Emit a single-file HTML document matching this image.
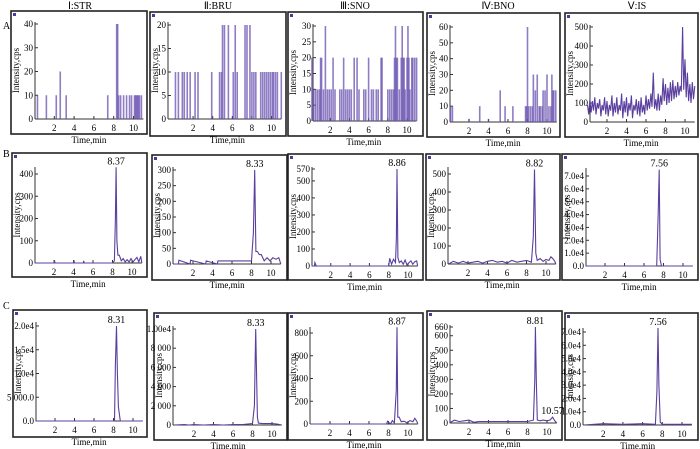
<!DOCTYPE html>
<html><head><meta charset="utf-8">
<style>
html,body{margin:0;padding:0;background:#fff;}
svg{display:block;font-family:"Liberation Serif",serif;}
</style></head>
<body>
<svg id="fig" width="700" height="449" viewBox="0 0 700 449" xmlns="http://www.w3.org/2000/svg">
<text x="3" y="29" font-size="10">A</text>
<text x="3" y="157" font-size="10">B</text>
<text x="3" y="309" font-size="10">C</text>
<text x="80" y="9" font-size="10" text-anchor="middle">Ⅰ:STR</text>
<text x="218" y="9" font-size="10" text-anchor="middle">Ⅱ:BRU</text>
<text x="355" y="9" font-size="10" text-anchor="middle">Ⅲ:SNO</text>
<text x="498" y="9" font-size="10" text-anchor="middle">Ⅳ:BNO</text>
<text x="637" y="9" font-size="10" text-anchor="middle">Ⅴ:IS</text>
</svg>
<script>
// ---- data arrays ----
const xTickVals = [2,4,6,8,10];
const a1Times = [0.3,1.2,2.2,2.6,3.2,7.4,8.3,8.4,8.5,8.7,9.0,9.3,9.6,9.8,10.1,10.2,10.3,10.4,10.5,10.6,10.8];
const a1Vals  = [10,10,10,20,10,10,40,40,10,10,10,10,10,10,10,10,10,10,10,10,10];
const a2Times = [0.2,0.5,0.9,1.1,1.4,1.7,2.2,2.5,3.9,4.7,4.9,5.0,5.2,5.6,6.1,6.3,6.5,7.3,7.5,7.8,8.0,8.2,8.4,8.9,9.1,9.3,9.5,9.7,9.9,10.1,10.2,10.4,10.6,11.0];
const a2Vals  = [10,10,10,10,10,10,10,10,10,10,10,20,20,20,10,20,10,20,20,20,10,10,10,10,10,10,10,10,10,10,10,10,10,10];
const a3Times = [0.1,0.3,0.5,0.7,0.9,1.0,1.1,1.3,1.5,1.7,1.9,2.1,2.3,2.5,3.0,3.2,3.4,3.6,3.8,4.0,4.2,4.5,4.8,5.0,5.5,5.7,6.0,6.3,6.5,6.8,7.0,7.3,7.4,8.0,8.2,8.4,8.6,8.7,8.8,8.9,9.0,9.2,9.4,9.5,9.6,9.7,9.8,10.0,10.1,10.2,10.3,10.5,10.6,10.8,11.0];
const a3Vals  = [20,10,10,10,10,20,20,10,30,10,10,10,20,10,10,10,20,10,10,10,10,20,20,10,10,10,20,10,10,10,10,20,20,10,10,10,10,20,30,20,20,10,20,30,20,20,10,20,30,20,10,20,20,20,20];
const a4Times = [0.1,0.3,2.0,3.1,4.0,5.2,5.7,6.5,7.8,7.9,8.0,8.1,8.3,8.5,8.6,8.8,9.0,9.2,9.3,9.5,9.6,9.8,10.0,10.2,10.4,10.5,10.6,10.7,10.9];
const a4Vals  = [10,10,2,10,2,20,10,10,10,10,60,10,10,10,30,20,30,10,10,10,20,20,30,10,10,30,20,20,20];
const a5Times = [0.0,0.12,0.25,0.37,0.5,0.62,0.75,0.87,1.0,1.12,1.25,1.37,1.5,1.62,1.75,1.87,2.0,2.12,2.25,2.37,2.5,2.62,2.75,2.87,3.0,3.12,3.25,3.37,3.5,3.62,3.75,3.87,4.0,4.12,4.25,4.37,4.5,4.62,4.75,4.87,5.0,5.12,5.25,5.37,5.5,5.62,5.75,5.87,6.0,6.12,6.25,6.37,6.5,6.62,6.75,6.87,7.0,7.12,7.25,7.37,7.5,7.62,7.75,7.87,8.0,8.12,8.25,8.37,8.5,8.62,8.75,8.87,9.0,9.12,9.25,9.37,9.5,9.62,9.75,9.87,10.0,10.12,10.25,10.37,10.5,10.62,10.75,10.87,11.0];
const a5Vals  = [90,40,120,50,110,60,130,40,100,70,120,30,90,60,130,40,110,30,90,60,140,30,100,50,130,40,90,60,150,20,110,50,130,30,100,60,140,20,90,60,120,40,110,30,130,50,90,40,140,60,120,70,150,80,260,70,120,60,150,60,140,90,230,110,200,90,180,100,210,110,220,120,190,130,210,140,190,160,500,170,330,130,260,110,200,100,210,120,190];
const b1Times = [0,2,2.05,2.1,4,4.05,4.1,5,5.05,5.1,6,8,8.2,8.3,8.37,8.45,8.55,8.7,8.9,9.1,9.3,9.5,9.7,9.9,10.1,10.3,10.5,10.7,10.9,11];
const b1Vals  = [0,0,12,0,0,12,0,0,10,0,0,0,10,200,430,100,35,35,10,20,5,15,5,20,5,15,25,5,30,0];
const b2Times = [0,0.5,0.55,1.7,1.75,2.0,3.3,3.35,4.5,4.55,5.0,5.7,6.8,7.0,7.5,8.0,8.2,8.33,8.45,8.6,8.8,9.0,9.3,9.6,9.9,10.2,10.5,10.8,11];
const b2Vals  = [0,0,12,0,12,10,0,10,0,10,10,10,10,10,10,10,100,300,40,40,30,30,10,20,10,20,15,20,0];
const b3Times = [0,0.3,0.35,0.5,8,8.1,8.3,8.5,8.7,8.8,8.86,8.95,9.1,9.3,9.5,9.7,9.9,10.1,10.3,10.5,10.7,10.9,11];
const b3Vals  = [0,0,20,0,0,45,10,40,20,170,570,50,20,30,10,35,5,20,30,10,25,30,0];
const b4Times = [0,0.5,1,1.5,2,2.5,3,3.5,4,4.5,5,5.5,6,6.5,7,7.5,8,8.5,8.7,8.82,8.95,9.1,9.4,9.7,10,10.3,10.5,10.7,10.9,11];
const b4Vals  = [0,15,5,15,5,10,15,5,15,20,10,15,5,20,10,15,20,10,150,525,60,20,30,15,25,20,40,30,15,0];
const b5Times = [0,7.3,7.45,7.56,7.65,7.8,11];
const b5Vals  = [0,0,38000,75000,5000,0,0];
const c1Times = [0,8.1,8.2,8.31,8.4,8.5,8.7,11];
const c1Vals  = [0,0,12000,20000,10000,3000,0,0];
const c2Times = [0,1,1.5,2,3,4,5,6,7,7.5,8,8.2,8.33,8.5,8.6,9,10,10.5,11];
const c2Vals  = [0,50,0,50,0,50,0,50,50,100,150,2000,10000,800,200,150,150,100,0];
const c3Times = [0,7.8,7.9,8.2,8.4,8.6,8.8,8.87,8.95,9.1,9.3,9.6,9.9,10.2,10.5,10.7,10.9,11];
const c3Vals  = [0,0,25,0,30,10,300,850,60,60,20,25,10,30,20,50,25,0];
const c4Times = [0,0.5,1,1.5,2,2.5,3,4,5,6,7,8,8.6,8.75,8.81,8.9,9.0,9.3,9.6,10,10.3,10.57,10.8,11];
const c4Vals  = [0,20,10,15,20,5,10,10,10,10,10,10,20,300,660,300,20,15,20,15,20,40,15,0];
const c5Times = [0,2,4,6,7.3,7.45,7.56,7.65,7.8,8,11];
const c5Vals  = [0,1000,500,1000,500,25000,73000,30000,2000,500,500];
const a1YTicks=[0,10,20,30,40], a2YTicks=[0,5,10,15,20], a3YTicks=[0,5,10,15,20,25,30], a4YTicks=[0,10,20,30,40,50,60], a5YTicks=[0,100,200,300,400,500];
const b1YTicks=[0,100,200,300,400], b2YTicks=[0,50,100,150,200,250,300], b3YTicks=[0,100,200,300,400,500,570], b4YTicks=[0,100,200,300,400,500], b5YTicks=[0,10000,20000,30000,40000,50000,60000,70000];
const b5YLabels=["0.0","1.0e4","2.0e4","3.0e4","4.0e4","5.0e4","6.0e4","7.0e4"];
const c1YTicks=[0,5000,10000,15000,20000], c1YLabels=["0.0","5 000.0","1.0e4","1.5e4","2.0e4"];
const c2YTicks=[0,2000,4000,6000,8000,10000], c2YLabels=["0","2 000","4 000","6 000","8 000","1.00e4"];
const c3YTicks=[0,200,400,600,800], c4YTicks=[0,100,200,300,400,500,600,660];
const c5YTicks=b5YTicks, c5YLabels=b5YLabels;

const panels = [
 {id:'a1',box:[11,11,147,134],ax:35,x0:34.5,ppm:9.9,base:119,topY:24,topVal:40,axTop:22,yt:a1YTicks,type:'spike',t:a1Times,v:a1Vals},
 {id:'a2',box:[150,12,286,136],ax:168,x0:173.5,ppm:9.8,base:119,topY:25,topVal:20,axTop:22,yt:a2YTicks,type:'spike',t:a2Times,v:a2Vals},
 {id:'a3',box:[288,12,423,136],ax:313,x0:311,ppm:9.6,base:121,topY:26,topVal:30,axTop:24,yt:a3YTicks,type:'spike',t:a3Times,v:a3Vals},
 {id:'a4',box:[427,13,560,137],ax:450,x0:449.5,ppm:9.75,base:122,topY:27,topVal:60,axTop:25,yt:a4YTicks,type:'spike',t:a4Times,v:a4Vals},
 {id:'a5',box:[565,13,698,137],ax:590,x0:587.5,ppm:9.75,base:122,topY:27,topVal:500,axTop:25,yt:a5YTicks,type:'line',t:a5Times,v:a5Vals},
 {id:'b1',box:[12,153,147,277],ax:35,x0:34.5,ppm:9.75,base:263,topY:174,topVal:400,axTop:167,yt:b1YTicks,type:'line',t:b1Times,v:b1Vals,pk:[[8.37,'8.37']]},
 {id:'b2',box:[152,155,287,280],ax:173,x0:173.5,ppm:9.75,base:264,topY:170,topVal:300,axTop:167,yt:b2YTicks,type:'line',t:b2Times,v:b2Vals,pk:[[8.33,'8.33']]},
 {id:'b3',box:[288,154,423,280],ax:312,x0:311.5,ppm:9.65,base:266,topY:169,topVal:570,axTop:167,yt:b3YTicks,type:'line',t:b3Times,v:b3Vals,pk:[[8.86,'8.86']]},
 {id:'b4',box:[426,154,560,280],ax:448,x0:448.5,ppm:9.75,base:264,topY:174,topVal:500,axTop:167,yt:b4YTicks,type:'line',t:b4Times,v:b4Vals,pk:[[8.82,'8.82']]},
 {id:'b5',box:[562,154,698,280],ax:586,x0:585.5,ppm:9.75,base:266,topY:176,topVal:70000,axTop:168,yt:b5YTicks,yl:b5YLabels,type:'line',t:b5Times,v:b5Vals,pk:[[7.56,'7.56']]},
 {id:'c1',box:[13,310,147,437],ax:36,x0:35.5,ppm:9.75,base:421,topY:326,topVal:20000,axTop:322,yt:c1YTicks,yl:c1YLabels,type:'line',t:c1Times,v:c1Vals,pk:[[8.31,'8.31']]},
 {id:'c2',box:[154,313,287,440],ax:173,x0:174.5,ppm:9.75,base:425,topY:329,topVal:10000,axTop:326,yt:c2YTicks,yl:c2YLabels,type:'line',t:c2Times,v:c2Vals,pk:[[8.33,'8.33']]},
 {id:'c3',box:[288,313,423,440],ax:310,x0:310.5,ppm:9.75,base:424,topY:333,topVal:800,axTop:327,yt:c3YTicks,type:'line',t:c3Times,v:c3Vals,pk:[[8.87,'8.87']]},
 {id:'c4',box:[427,311,562,440],ax:450,x0:449.5,ppm:9.75,base:423,topY:327,topVal:660,axTop:325,yt:c4YTicks,type:'line',t:c4Times,v:c4Vals,pk:[[8.81,'8.81'],[10.57,'10.57']]},
 {id:'c5',box:[565,313,698,440],ax:583,x0:583.5,ppm:9.85,base:425,topY:332,topVal:70000,axTop:328,yt:c5YTicks,yl:c5YLabels,type:'line',t:c5Times,v:c5Vals,pk:[[7.56,'7.56']]}
];

const NS='http://www.w3.org/2000/svg';
const svg=document.getElementById('fig');
function mk(tag,attrs,parent){const e=document.createElementNS(NS,tag);for(const k in attrs)e.setAttribute(k,attrs[k]);(parent||svg).appendChild(e);return e;}

panels.forEach(p=>{
  const g=mk('g',{});
  
  
  const X=t=>p.x0+t*p.ppm;
  const Y=v=>p.base-v*(p.base-p.topY)/p.topVal;
  const [bx0,by0,bx1,by1]=p.box;
  const box=mk('rect',{x:bx0,y:by0,width:bx1-bx0,height:by1-by0,fill:'none',stroke:'#222','stroke-width':1.6},g);
  
  
  const mark=mk('rect',{x:bx0+2,y:by0+2,width:3,height:3,fill:'#4a3a9a'},g);
  
  
  const xa=mk('line',{x1:p.ax,y1:p.base,x2:X(11),y2:p.base,stroke:'#333','stroke-width':1},g);
  
  
  const ya=mk('line',{x1:p.ax,y1:p.base,x2:p.ax,y2:p.axTop,stroke:'#333','stroke-width':1},g);
  
  
  xTickVals.forEach(t=>{
    mk('line',{x1:X(t),y1:p.base,x2:X(t),y2:p.base-3,stroke:'#333'},g);
    const tx=mk('text',{x:X(t),y:p.base+12,'font-size':9,'text-anchor':'middle'},g);
    tx.textContent=t;
    
    
  });
  p.yt.forEach((v,i)=>{
    mk('line',{x1:p.ax,y1:Y(v),x2:p.ax+3,y2:Y(v),stroke:'#333'},g);
    const tx=mk('text',{x:p.ax-2,y:Y(v)+3,'font-size':9,'text-anchor':'end'},g);
    tx.textContent=p.yl?p.yl[i]:v;
    
    
  });
  const xt=mk('text',{x:X(5.5),y:p.base+24,'font-size':9,'text-anchor':'middle'},g);
  xt.textContent='Time,min';
  
  
  const ylx=bx0+8, yly=(p.base+p.axTop)/2;
  const yt=mk('text',{x:ylx,y:yly,'font-size':9,'text-anchor':'middle',transform:`rotate(-90 ${ylx} ${yly})`},g);
  yt.textContent='Intensity,cps';
  
  
  if(p.type==='spike'){
    p.t.forEach((t,i)=>{
      const r=mk('rect',{x:X(t)-0.8,y:Y(p.v[i]),width:1.6,height:p.base-Y(p.v[i]),fill:'#6a52b0','fill-opacity':0.75},g);
      
      
    });
  } else {
    const pts=p.t.map((t,i)=>X(t).toFixed(1)+','+Y(p.v[i]).toFixed(1)).join(' ');
    const pl=mk('polyline',{points:pts,fill:'none',stroke:'#5b3f9e','stroke-width':1.1},g);
    
    
  }
  (p.pk||[]).forEach(([t,lab])=>{
    const i=p.t.indexOf(t);
    const v=i>=0?p.v[i]:p.topVal*0.05;
    const tx=mk('text',{x:X(t),y:Y(v)-3,'font-size':10,'text-anchor':'middle'},g);
    tx.textContent=lab;
    
    
  });
});
</script>
</body></html>
